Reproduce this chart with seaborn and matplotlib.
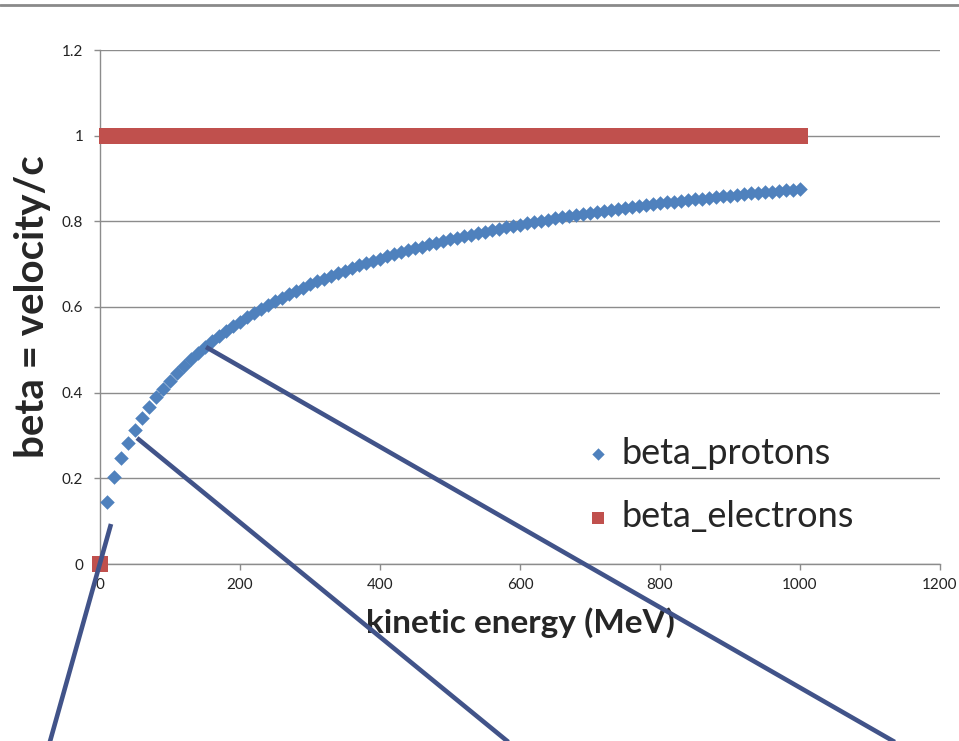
"""
beta = v/c for protons and electrons vs kinetic energy (Excel-style scatter)
"""

import pandas as pd
import matplotlib
matplotlib.use('Agg')
import matplotlib.pyplot as plt
from matplotlib.lines import Line2D
import seaborn as sns

# ===== data =====
energy_protons = [
    10, 20, 30, 40, 50, 60, 70, 80, 90, 100,
    110, 120, 130, 140, 150, 160, 170, 180, 190, 200,
    210, 220, 230, 240, 250, 260, 270, 280, 290, 300,
    310, 320, 330, 340, 350, 360, 370, 380, 390, 400,
    410, 420, 430, 440, 450, 460, 470, 480, 490, 500,
    510, 520, 530, 540, 550, 560, 570, 580, 590, 600,
    610, 620, 630, 640, 650, 660, 670, 680, 690, 700,
    710, 720, 730, 740, 750, 760, 770, 780, 790, 800,
    810, 820, 830, 840, 850, 860, 870, 880, 890, 900,
    910, 920, 930, 940, 950, 960, 970, 980, 990, 1000,
]
beta_protons = [
    0.145, 0.203, 0.247, 0.283, 0.314, 0.342, 0.366, 0.389, 0.409, 0.428,
    0.446, 0.463, 0.478, 0.493, 0.507, 0.520, 0.532, 0.544, 0.555, 0.566,
    0.577, 0.586, 0.596, 0.605, 0.614, 0.622, 0.630, 0.638, 0.645, 0.653,
    0.660, 0.666, 0.673, 0.679, 0.685, 0.691, 0.697, 0.702, 0.708, 0.713,
    0.718, 0.723, 0.728, 0.733, 0.737, 0.741, 0.746, 0.750, 0.754, 0.758,
    0.762, 0.766, 0.769, 0.773, 0.776, 0.780, 0.783, 0.786, 0.789, 0.792,
    0.796, 0.798, 0.801, 0.804, 0.807, 0.810, 0.812, 0.815, 0.817, 0.820,
    0.822, 0.825, 0.827, 0.829, 0.831, 0.834, 0.836, 0.838, 0.840, 0.842,
    0.844, 0.846, 0.848, 0.850, 0.851, 0.853, 0.855, 0.857, 0.858, 0.860,
    0.862, 0.863, 0.865, 0.866, 0.868, 0.869, 0.871, 0.872, 0.874, 0.875,
]

energy_electrons = [
    0, 10, 20, 30, 40, 50, 60, 70, 80, 90, 100,
    110, 120, 130, 140, 150, 160, 170, 180, 190, 200,
    210, 220, 230, 240, 250, 260, 270, 280, 290, 300,
    310, 320, 330, 340, 350, 360, 370, 380, 390, 400,
    410, 420, 430, 440, 450, 460, 470, 480, 490, 500,
    510, 520, 530, 540, 550, 560, 570, 580, 590, 600,
    610, 620, 630, 640, 650, 660, 670, 680, 690, 700,
    710, 720, 730, 740, 750, 760, 770, 780, 790, 800,
    810, 820, 830, 840, 850, 860, 870, 880, 890, 900,
    910, 920, 930, 940, 950, 960, 970, 980, 990, 1000,
]
beta_electrons = [
    0.0, 0.999, 1.0, 1.0, 1.0, 1.0, 1.0, 1.0, 1.0, 1.0, 1.0,
    1.0, 1.0, 1.0, 1.0, 1.0, 1.0, 1.0, 1.0, 1.0, 1.0,
    1.0, 1.0, 1.0, 1.0, 1.0, 1.0, 1.0, 1.0, 1.0, 1.0,
    1.0, 1.0, 1.0, 1.0, 1.0, 1.0, 1.0, 1.0, 1.0, 1.0,
    1.0, 1.0, 1.0, 1.0, 1.0, 1.0, 1.0, 1.0, 1.0, 1.0,
    1.0, 1.0, 1.0, 1.0, 1.0, 1.0, 1.0, 1.0, 1.0, 1.0,
    1.0, 1.0, 1.0, 1.0, 1.0, 1.0, 1.0, 1.0, 1.0, 1.0,
    1.0, 1.0, 1.0, 1.0, 1.0, 1.0, 1.0, 1.0, 1.0, 1.0,
    1.0, 1.0, 1.0, 1.0, 1.0, 1.0, 1.0, 1.0, 1.0, 1.0,
    1.0, 1.0, 1.0, 1.0, 1.0, 1.0, 1.0, 1.0, 1.0, 1.0,
]

x_ticks = [0, 200, 400, 600, 800, 1000, 1200]
y_ticks = [0, 0.2, 0.4, 0.6, 0.8, 1.0, 1.2]
y_tick_labels = ['0', '0.2', '0.4', '0.6', '0.8', '1', '1.2']

df_p = pd.DataFrame({'energy': energy_protons, 'beta': beta_protons})
df_e = pd.DataFrame({'energy': energy_electrons, 'beta': beta_electrons})

# ===== style =====
sns.set_style('white')
plt.rcParams['font.family'] = ['Lato', 'DejaVu Sans']

W, H = 959, 741
fig = plt.figure(figsize=(W / 100, H / 100), dpi=100)
ax = fig.add_axes([100 / W, 1 - 564 / H, 840 / W, 514 / H])

blue = '#4F81BD'
red = '#C0504D'
grey = '#8C8C8C'

sns.scatterplot(data=df_p, x='energy', y='beta', marker='D', s=55, color=blue,
                linewidth=0, label='beta_protons', ax=ax, clip_on=False, zorder=3)
sns.scatterplot(data=df_e, x='energy', y='beta', marker='s', s=118, color=red,
                linewidth=0, label='beta_electrons', ax=ax, clip_on=False, zorder=4)

ax.set_xlim(0, 1200)
ax.set_ylim(0, 1.2)
ax.set_xticks(x_ticks)
ax.set_xticklabels([str(t) for t in x_ticks])
ax.set_yticks(y_ticks)
ax.set_yticklabels(y_tick_labels)
ax.yaxis.grid(True, color=grey, linewidth=1)
ax.xaxis.grid(False)
ax.set_axisbelow(True)

for s in ['top', 'right']:
    ax.spines[s].set_visible(False)
for s in ['left', 'bottom']:
    ax.spines[s].set_color(grey)
    ax.spines[s].set_linewidth(1)

ax.tick_params(axis='both', direction='out', length=4, width=1, color=grey,
               labelsize=11, labelcolor='#222222')
ax.tick_params(axis='y', pad=8, left=True)
ax.tick_params(axis='x', pad=6, bottom=True)

ax.set_xlabel('kinetic energy (MeV)', fontsize=24, fontweight='bold')
ax.set_ylabel('beta = velocity/c', fontsize=29, fontweight='bold')
ax.xaxis.set_label_coords(0.5, -0.084)
ax.yaxis.set_label_coords(-0.058, 0.5)

ax.legend(loc='center left', bbox_to_anchor=(584 / W, 1 - 485 / H),
          bbox_transform=fig.transFigure, frameon=False, fontsize=26,
          handlelength=0.8, handletextpad=0.25, labelspacing=0.85,
          borderpad=0, borderaxespad=0, markerscale=0.85)

# ===== annotation lines drawn over the chart =====
line_col = '#415389'
for (x0, y0), (x1, y1) in [((111, 524), (49, 745)),
                           ((137, 438), (512, 745)),
                           ((206, 347), (900, 745))]:
    fig.add_artist(Line2D([x0 / W, x1 / W], [1 - y0 / H, 1 - y1 / H],
                          transform=fig.transFigure, color=line_col,
                          linewidth=3.3, zorder=10, solid_capstyle='butt'))

# grey border line at the very top
fig.add_artist(Line2D([0, 1], [1 - 5 / H, 1 - 5 / H], transform=fig.transFigure,
                      color='#8A8A8A', linewidth=2, zorder=10))

fig.savefig('out.png', dpi=100)
plt.close()
